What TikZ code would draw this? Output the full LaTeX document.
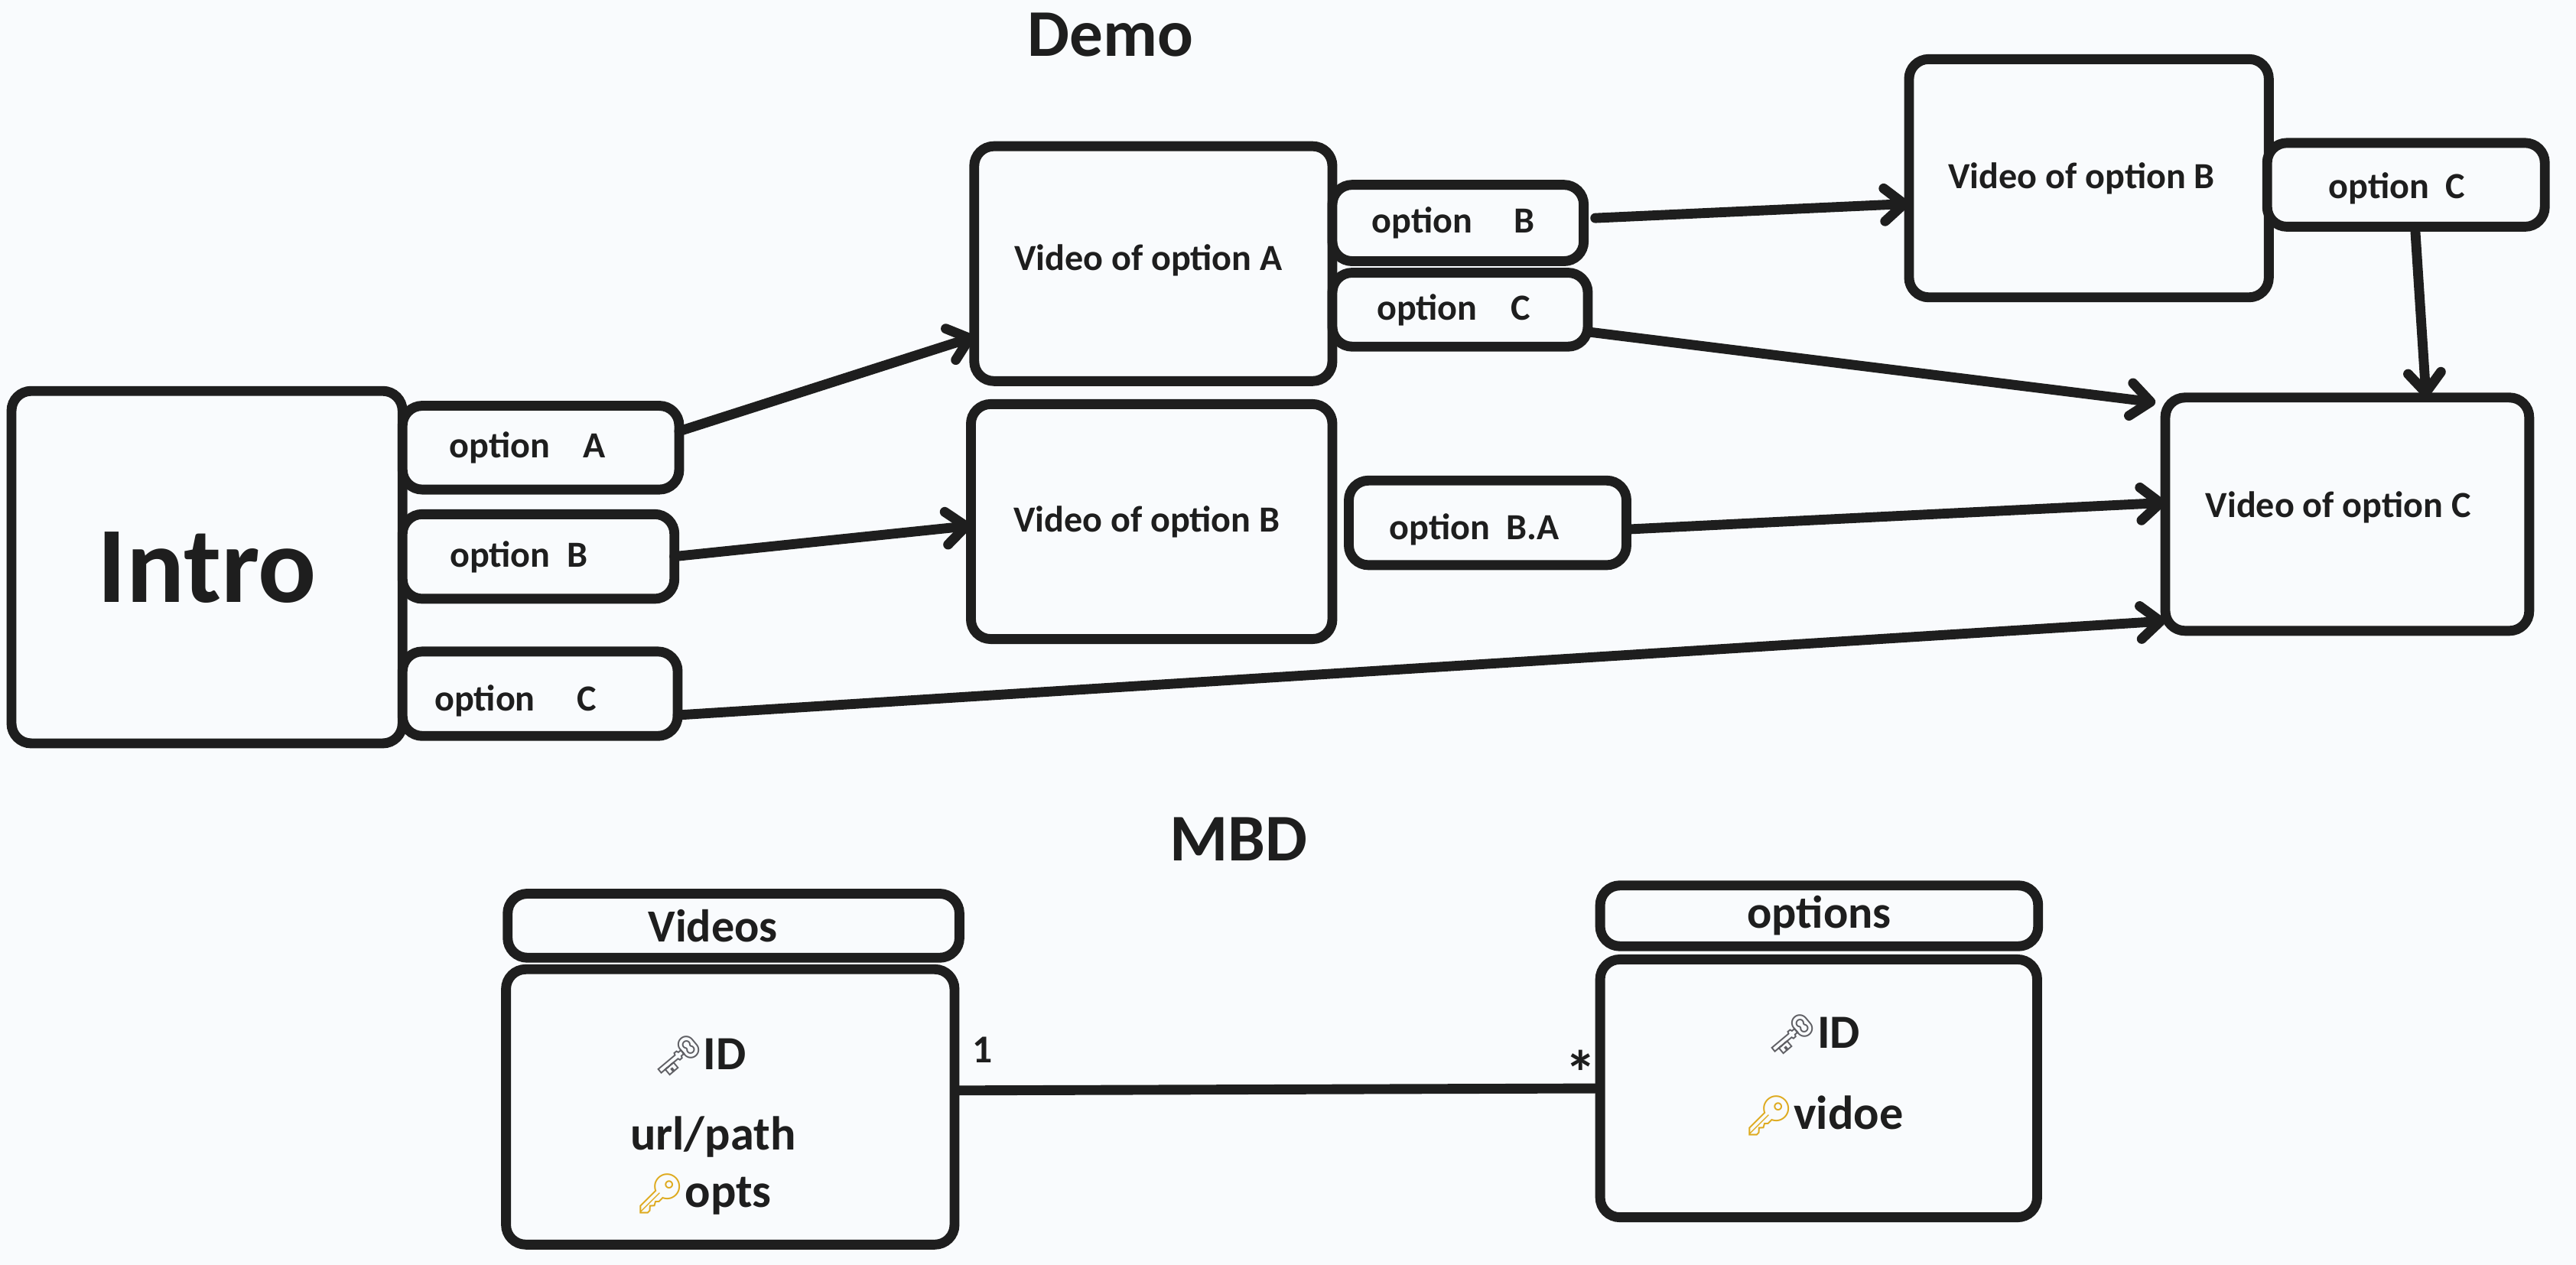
\documentclass[tikz,border=0pt]{standalone}
\usepackage{fontspec}
\setmainfont{Carlito}[BoldFont=Carlito Bold]
\newfontfamily\emojifont{Noto Emoji}
\usepackage{tikz}
\usetikzlibrary{arrows.meta}
\definecolor{mypaper}{RGB}{249, 251, 253}
\definecolor{myink}{RGB}{30, 30, 30}
\definecolor{mysilver}{RGB}{95, 95, 100}
\definecolor{mygold}{RGB}{222, 170, 30}
\tikzset{every picture/.style={line width=0.75pt}}
\tikzset{
  sized/.style 2 args={minimum width=#1*0.5pt,minimum height=#2*0.5pt},
  sketchbox/.style={draw=myink,fill=mypaper,line width=3pt,rounded corners=6pt,inner sep=0pt,outer sep=0pt,text=myink,font=\bfseries\fontsize{11.2}{12}\selectfont},
  flow/.style={draw=myink,line width=3pt,line cap=round,-{Straight Barb[length=6pt,width=10pt,round]}},
  plainlink/.style={draw=myink,line width=3pt},
  heading/.style={text=myink,inner sep=0pt,font=\bfseries\fontsize{20.3}{24}\selectfont},
  tablehead/.style={text=myink,inner sep=0pt,font=\bfseries\fontsize{14}{16}\selectfont},
  fieldname/.style={text=myink,inner sep=0pt,font=\bfseries\fontsize{14.5}{16}\selectfont},
  endlabel/.style={text=myink,inner sep=0pt,font=\bfseries\fontsize{12}{13}\selectfont}
}
\newcommand{\silverkey}{{\fontsize{12}{13}\emojifont\color{mysilver}🗝}}
\newcommand{\goldkey}{{\fontsize{12}{13}\emojifont\color{mygold}🔑}}

\begin{document}
\begin{tikzpicture}[x=0.5pt,y=0.5pt,yscale=-1]
\useasboundingbox (0,0) rectangle (1568,770);
\fill[mypaper] (0,0) rectangle (1568,770);

% Demo
\node[heading] (demotitle) at (676,21) {Demo};
\node[sketchbox,sized={238}{214.5},font=\bfseries\fontsize{33}{36}\selectfont] (intro) at (126,345.25) {Intro};
\node[sketchbox,sized={168.4}{51}] (optA) at (329.2,272.5) {option~~~~A\kern8pt};
\node[sketchbox,sized={165.5}{51.5},text height=8pt] (optB) at (327.75,338.75) {option~~B\kern12pt};
\node[sketchbox,sized={167.5}{51.4},text height=12pt] (optC) at (328.75,422.3) {option~~~~~C\kern15pt};
\node[sketchbox,sized={218}{143},text depth=4pt] (vidA) at (702,160.5) {Video of option A\kern3pt};
\node[sketchbox,sized={220}{143}] (vidB) at (701,317.5) {Video of option B\kern3pt};
\node[sketchbox,sized={153}{46.5},text height=8pt] (optAB) at (887.5,135.75) {option~~~~~B\kern3pt};
\node[sketchbox,sized={155.5}{45},text height=8pt] (optAC) at (888.75,188.5) {option~~~~C\kern4pt};
\node[sketchbox,sized={169}{51.5},text height=12pt] (optBA) at (905.5,318.25) {option~~B.A\kern8pt};
\node[sketchbox,sized={219}{145}] (vidBB) at (1271.5,108.5) {Video of option B\kern4.5pt};
\node[sketchbox,sized={169}{51},text height=10pt] (optBC) at (1464.5,112.5) {option~~C\kern5.5pt};
\node[sketchbox,sized={221.5}{142},text depth=6pt] (vidC) at (1428.75,313) {Video of option C\kern5.5pt};

\draw[flow] ([shift={(0,-10)}]optA.east) -- ([shift={(0,44.5)}]vidA.west);
\draw[flow] (optB.east) -- ([shift={(0,2.5)}]vidB.west);
\draw[flow] ([shift={(0,13)}]optC.east) -- ([shift={(0,65)}]vidC.west);
\draw[flow] ([shift={(7,-3)}]optAB.east) -- ([shift={(0,15.5)}]vidBB.west);
\draw[flow] ([shift={(0,13.5)}]optAC.east) -- ([shift={(-6,-68)}]vidC.west);
\draw[flow] ([shift={(0,4)}]optBA.east) -- ([shift={(0,-7)}]vidC.west);
\draw[flow] ([shift={(5.5,0)}]optBC.south) -- ([shift={(48,0)}]vidC.north);

% MBD
\node[heading] (mbdtitle) at (754,511) {MBD};
\node[sketchbox,sized={275}{39},tablehead] (vidsH) at (446.5,563.5) {Videos\kern12.5pt};
\node[sketchbox,sized={273}{167.6}] (vidsB) at (444.5,673.8) {};
\node[sketchbox,sized={266.6}{37},tablehead] (optsH) at (1107.3,557.5) {options};
\node[sketchbox,sized={266}{157}] (optsB) at (1107,662.5) {};

\node[fieldname] (vidsid) at (426,643) {\silverkey ID};
\node[fieldname] (vidsurl) at (434,692) {url/path};
\node[fieldname] (vidsopts) at (428,727) {\goldkey opts};
\node[fieldname] (optsid) at (1104,630) {\silverkey ID};
\node[fieldname] (optsvid) at (1110,679) {\goldkey vidoe};

\draw[plainlink] ([shift={(0,-10)}]vidsB.east) -- (optsB.west);
\node[endlabel] (onelabel) at (598,639) {1};
\node[endlabel,font=\bfseries\fontsize{19}{20}\selectfont] (manylabel) at (962,653) {*};

\end{tikzpicture}
\end{document}
